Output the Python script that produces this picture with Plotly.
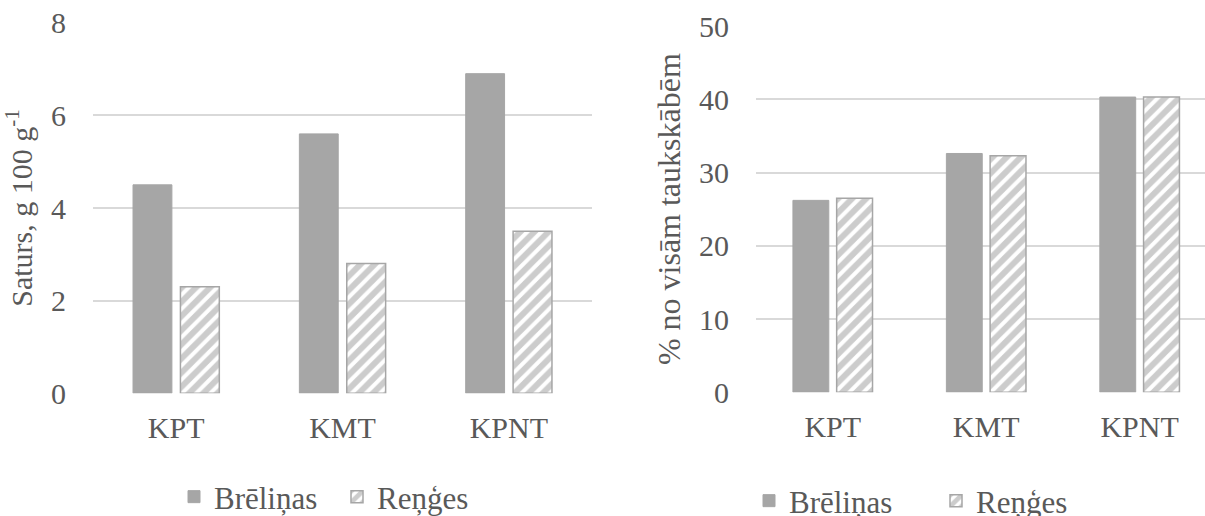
import plotly.graph_objects as go

# Sample groups (x-axis categories)
categories = ["KPT", "KMT", "KPNT"]

# Content, g 100 g-1
content_brelinas = [4.5, 5.6, 6.9]
content_renges = [2.3, 2.8, 3.5]

# Share of total fatty acids, %
share_brelinas = [26.2, 32.6, 40.3]
share_renges = [26.5, 32.3, 40.3]

left_ticks = [0, 2, 4, 6, 8]
right_ticks = [0, 10, 20, 30, 40, 50]

GRAY = "#a6a6a6"
TEXT = "#595959"
GRID = "#d9d9d9"
FONT = "Liberation Serif, Times New Roman, DejaVu Serif, serif"

W, H = 1205, 516

solid = dict(color=GRAY, line=dict(color=GRAY, width=1))
hatched = dict(
    color="white",
    line=dict(color=GRAY, width=1.5),
    pattern=dict(shape="/", fgcolor="#999999", bgcolor="white", size=10, solidity=0.6),
)

fig = go.Figure()

fig.add_trace(go.Bar(x=categories, y=content_brelinas, name="Brēliņas", marker=solid,
                     xaxis="x", yaxis="y", legend="legend"))
fig.add_trace(go.Bar(x=categories, y=content_renges, name="Reņģes", marker=hatched,
                     xaxis="x", yaxis="y", legend="legend"))
fig.add_trace(go.Bar(x=categories, y=share_brelinas, name="Brēliņas", marker=solid,
                     xaxis="x2", yaxis="y2", legend="legend2"))
fig.add_trace(go.Bar(x=categories, y=share_renges, name="Reņģes", marker=hatched,
                     xaxis="x2", yaxis="y2", legend="legend2"))

tickfont = dict(family=FONT, size=30, color=TEXT)

xcommon = dict(type="category", showgrid=False, zeroline=False, showline=False,
               ticks="", tickfont=tickfont, ticklabelstandoff=14, automargin=False)
ycommon = dict(showgrid=True, gridcolor=GRID, gridwidth=1.5, zeroline=False,
               showline=False, ticks="", tickfont=tickfont, ticklabelstandoff=26,
               automargin=False)

legend_font = dict(family=FONT, size=31, color=TEXT)

fig.update_layout(
    width=W, height=H,
    margin=dict(l=0, r=0, t=0, b=0, autoexpand=False),
    paper_bgcolor="white", plot_bgcolor="white",
    barmode="group", bargap=0.43, bargroupgap=0.18,
    font=dict(family=FONT, color=TEXT),
    xaxis=dict(xcommon, domain=[93 / W, 592 / W], range=[-0.5, 2.5], anchor="y"),
    yaxis=dict(ycommon, domain=[(H - 393.3) / H, (H - 22.7) / H], range=[0, 8],
               tickvals=left_ticks, anchor="x",
               title=dict(text="Saturs, g 100 g<sup>-1</sup>",
                          font=dict(family=FONT, size=30, color=TEXT), standoff=14)),
    xaxis2=dict(xcommon, domain=[756 / W, 1.0], range=[-0.5, 2.426], anchor="y2"),
    yaxis2=dict(ycommon, domain=[(H - 392.3) / H, (H - 26) / H], range=[0, 50],
                tickvals=right_ticks, anchor="x2",
                title=dict(text="% no visām taukskābēm",
                           font=dict(family=FONT, size=32, color=TEXT), standoff=8)),
    legend=dict(orientation="h", x=174 / W, xanchor="left", y=(H - 497) / H,
                yanchor="middle", font=legend_font, itemwidth=30,
                entrywidth=118, entrywidthmode="pixels", bgcolor="rgba(0,0,0,0)"),
    legend2=dict(orientation="h", x=749 / W, xanchor="left", y=(H - 501) / H,
                 yanchor="middle", font=legend_font, itemwidth=30,
                 entrywidth=142, entrywidthmode="pixels", bgcolor="rgba(0,0,0,0)"),
)

fig.write_html("out.html")
